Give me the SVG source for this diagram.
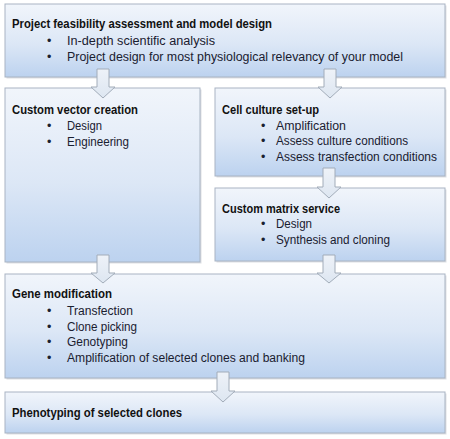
<svg xmlns="http://www.w3.org/2000/svg" width="450" height="439" viewBox="0 0 450 439">
<defs>
<linearGradient id="boxfill" x1="0" y1="0" x2="0" y2="1">
<stop offset="0" stop-color="#f1f5fb"/>
<stop offset="0.55" stop-color="#dce7f6"/>
<stop offset="1" stop-color="#bcd2ef"/>
</linearGradient>
<linearGradient id="arrowfill" x1="0" y1="0" x2="0" y2="1">
<stop offset="0" stop-color="#eef2f8"/>
<stop offset="1" stop-color="#dde6f1"/>
</linearGradient>
</defs>
<style>
.box{fill:url(#boxfill);stroke:#a9b4c3;stroke-width:1}
.shadow{fill:#8a94a3;opacity:0.3}
.arrow{fill:url(#arrowfill);stroke:#a2acb9;stroke-width:1;stroke-linejoin:miter}
.t{font-family:"Liberation Sans",Arial,sans-serif;font-size:13px;font-weight:bold;fill:#111111}
.b{font-family:"Liberation Sans",Arial,sans-serif;font-size:12.5px;fill:#1a2030}
</style>
<rect width="450" height="439" fill="#ffffff"/>

<g id="node-feasibility">
<rect class="shadow" x="6.5" y="5.5" width="440" height="73"/>
<rect class="box" x="5" y="4" width="440" height="73"/>
<text class="t" x="12" y="28" textLength="260" lengthAdjust="spacingAndGlyphs">Project feasibility assessment and model design</text>
<text class="b" x="47" y="45">•</text>
<text class="b" x="67" y="45" textLength="148" lengthAdjust="spacingAndGlyphs">In-depth scientific analysis</text>
<text class="b" x="47" y="61">•</text>
<text class="b" x="67" y="61" textLength="336" lengthAdjust="spacingAndGlyphs">Project design for most physiological relevancy of your model</text>
</g>

<g id="node-vector">
<rect class="shadow" x="6.5" y="89.5" width="195" height="174"/>
<rect class="box" x="5" y="88" width="195" height="174"/>
<text class="t" x="12" y="114" textLength="126" lengthAdjust="spacingAndGlyphs">Custom vector creation</text>
<text class="b" x="47" y="130">•</text>
<text class="b" x="67" y="130" textLength="35" lengthAdjust="spacingAndGlyphs">Design</text>
<text class="b" x="47" y="146">•</text>
<text class="b" x="67" y="146" textLength="62" lengthAdjust="spacingAndGlyphs">Engineering</text>
</g>

<g id="node-cellculture">
<rect class="shadow" x="216.5" y="89.5" width="230" height="88"/>
<rect class="box" x="215" y="88" width="230" height="88"/>
<text class="t" x="222" y="114" textLength="97" lengthAdjust="spacingAndGlyphs">Cell culture set-up</text>
<text class="b" x="261" y="130">•</text>
<text class="b" x="276" y="130" textLength="70" lengthAdjust="spacingAndGlyphs">Amplification</text>
<text class="b" x="261" y="145">•</text>
<text class="b" x="276" y="145" textLength="132" lengthAdjust="spacingAndGlyphs">Assess culture conditions</text>
<text class="b" x="261" y="161">•</text>
<text class="b" x="276" y="161" textLength="161" lengthAdjust="spacingAndGlyphs">Assess transfection conditions</text>
</g>

<g id="node-matrix">
<rect class="shadow" x="216.5" y="189.5" width="230" height="73"/>
<rect class="box" x="215" y="188" width="230" height="73"/>
<text class="t" x="222" y="213" textLength="118" lengthAdjust="spacingAndGlyphs">Custom matrix service</text>
<text class="b" x="261" y="228">•</text>
<text class="b" x="276" y="228" textLength="36" lengthAdjust="spacingAndGlyphs">Design</text>
<text class="b" x="261" y="244">•</text>
<text class="b" x="276" y="244" textLength="114" lengthAdjust="spacingAndGlyphs">Synthesis and cloning</text>
</g>

<g id="node-genemod">
<rect class="shadow" x="6.5" y="275.5" width="440" height="104"/>
<rect class="box" x="5" y="274" width="440" height="104"/>
<text class="t" x="12" y="298" textLength="100" lengthAdjust="spacingAndGlyphs">Gene modification</text>
<text class="b" x="47" y="315">•</text>
<text class="b" x="67" y="315" textLength="66" lengthAdjust="spacingAndGlyphs">Transfection</text>
<text class="b" x="47" y="331">•</text>
<text class="b" x="67" y="331" textLength="70" lengthAdjust="spacingAndGlyphs">Clone picking</text>
<text class="b" x="47" y="346">•</text>
<text class="b" x="67" y="346" textLength="61" lengthAdjust="spacingAndGlyphs">Genotyping</text>
<text class="b" x="47" y="362">•</text>
<text class="b" x="67" y="362" textLength="238" lengthAdjust="spacingAndGlyphs">Amplification of selected clones and banking</text>
</g>

<g id="node-phenotyping">
<rect class="shadow" x="6.5" y="393.5" width="440" height="41"/>
<rect class="box" x="5" y="392" width="440" height="41"/>
<text class="t" x="12" y="417" textLength="170" lengthAdjust="spacingAndGlyphs">Phenotyping of selected clones</text>
</g>

<g id="connectors">
<path class="arrow" d="M97,69 H109 V87 H115 L103,98 L91,87 H97 Z"/>
<path class="arrow" d="M324,69 H336 V87 H342 L330,98 L318,87 H324 Z"/>
<path class="arrow" d="M323,168 H335 V187 H341 L329,198 L317,187 H323 Z"/>
<path class="arrow" d="M97,255 H109 V273 H115 L103,283 L91,273 H97 Z"/>
<path class="arrow" d="M323,255 H335 V273 H341 L329,283 L317,273 H323 Z"/>
<path class="arrow" d="M217,372 H229 V391 H235 L223,402 L211,391 H217 Z"/>
</g>
</svg>
